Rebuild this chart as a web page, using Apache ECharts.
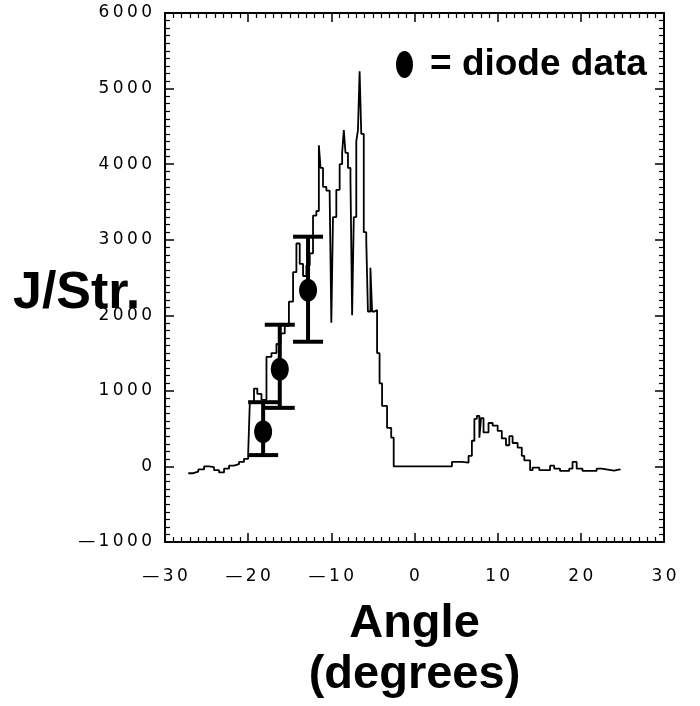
<!DOCTYPE html>
<html><head><meta charset="utf-8">
<script src="https://cdn.jsdelivr.net/npm/echarts@6/dist/echarts.min.js"></script>
<style>html,body{margin:0;padding:0;background:#fff}#c{width:700px;height:706px}</style>
</head><body><div id="c"></div>
<script>
const xTicks = [-30, -20, -10, 0, 10, 20, 30];
const yTicks = [-1000, 0, 1000, 2000, 3000, 4000, 5000, 6000];

const scanAngle = [
  -27.2, -26.6, -26.0, -25.3, -24.7, -24.1, -23.5, -22.9, -22.3, -21.7, -21.1, -20.5, -20.0,
  -19.8, -19.3, -18.9, -18.4, -17.8, -17.2, -16.6, -16.1, -15.6, -15.1, -14.6, -14.2, -13.8,
  -13.4, -13.0, -12.6, -12.2, -11.8, -11.5, -11.3, -11.0, -10.6, -10.2, -10.0, -9.8, -9.4,
  -9.0, -8.7, -8.5, -8.3, -8.0, -7.7, -7.5, -7.3, -7.0, -6.8, -6.6, -6.4, -6.1, -5.8, -5.6,
  -5.3, -5.1, -4.8, -4.5, -4.2, -3.9, -3.3, -2.8, -2.5,
  4.5, 5.7, 6.5, 6.9, 7.2, 7.5, 7.8, 8.0, 8.3, 8.9, 9.4, 10.0, 10.5, 11.0, 11.4, 11.8, 12.4,
  12.9, 13.2, 13.9, 14.2, 15.0, 16.3, 16.8, 17.5, 18.6, 19.0, 19.5, 20.2, 21.9, 22.5, 24.0, 24.7
];
const scanValue = [
  -90, -70, -40, 0, -10, -50, -80, -30, 10, 30, 60, 100, 170,
  850, 1030, 960, 880, 1450, 1500, 1620, 1760, 1860, 2180, 2570, 2950, 2680,
  2520, 2660, 2820, 3320, 3380, 4250, 3950, 3700, 3650, 3600, 1900, 3300, 3660,
  4000, 4150, 4450, 4150, 3950, 3800, 2000, 3300, 4300, 4450, 5230, 4400, 3100, 2990, 2050,
  2630, 2050, 2070, 1500, 1100, 800, 510, 380, 0,
  60, 50, 140, 340, 630, 670, 380, 640, 450, 575, 540, 470, 370, 280, 400, 310, 250,
  140, 80, -50, -15, -50, 10, -30, -60, -30, 60, -30, -60, -30, -55, -40, -50
];

const diodeAngle = [-18.2, -16.2, -12.8];
const diodeValue = [460, 1285, 2330];
const diodeLow = [150, 775, 1650];
const diodeHigh = [850, 1875, 3040];

const seriesName = 'diode data';
const legendText = '= diode data';
const yTitle = 'J/Str.';
const xTitle = 'Angle\n(degrees)';

const ellipse = 'path://M50,0 C77.6,0 100,22.4 100,50 C100,77.6 77.6,100 50,100 C22.4,100 0,77.6 0,50 C0,22.4 22.4,0 50,0 Z';

function spaced(v) {
  const s = String(Math.abs(v)).split('').join('\u2009');
  return v < 0 ? '\u2014\u2009' + s : s;
}

const tickFont = { fontFamily: 'DejaVu Sans', fontSize: 17, color: '#000' };
const lineStyle = { color: '#000', width: 2 };

function makeX(pos, showLabel) {
  return {
    type: 'value', position: pos, min: xTicks[0], max: xTicks[xTicks.length - 1],
    interval: xTicks[1] - xTicks[0],
    axisLine: { show: true, onZero: false, lineStyle: lineStyle },
    axisTick: { show: true, inside: true, length: 9, lineStyle: { color: '#000', width: 1.5 } },
    minorTick: { show: true, splitNumber: 10, length: 5, lineStyle: { color: '#000', width: 1.2 } },
    splitLine: { show: false }, minorSplitLine: { show: false },
    axisLabel: Object.assign({ show: showLabel, margin: 26, formatter: spaced }, tickFont),
    name: showLabel ? xTitle : '', nameLocation: 'middle', nameGap: 57,
    nameTextStyle: { fontFamily: 'Liberation Sans', fontWeight: 'bold', fontSize: 47, lineHeight: 51, color: '#000' }
  };
}
function makeY(pos, showLabel) {
  return {
    type: 'value', position: pos, min: yTicks[0], max: yTicks[yTicks.length - 1],
    interval: yTicks[1] - yTicks[0],
    axisLine: { show: true, onZero: false, lineStyle: lineStyle },
    axisTick: { show: true, inside: true, length: 9, lineStyle: { color: '#000', width: 1.5 } },
    minorTick: { show: true, splitNumber: 10, length: 5, lineStyle: { color: '#000', width: 1.2 } },
    splitLine: { show: false }, minorSplitLine: { show: false },
    axisLabel: Object.assign({ show: showLabel, margin: 13, formatter: spaced }, tickFont)
  };
}

const chart = echarts.init(document.getElementById('c'), null, { renderer: 'canvas' });
chart.setOption({
  animation: false,
  backgroundColor: '#fff',
  grid: { left: 165, right: 36, top: 13, bottom: 163 },
  title: {
    text: yTitle, left: 13, top: 268, padding: 0,
    textStyle: { fontFamily: 'Liberation Sans', fontWeight: 'bold', fontSize: 52, color: '#000' }
  },
  legend: {
    left: 396, top: 46, padding: 0,
    itemWidth: 17, itemHeight: 27, symbolKeepAspect: false,
    data: [{ name: seriesName, icon: ellipse, itemStyle: { color: '#000', opacity: 1 } }],
    formatter: function () { return '{t|' + legendText + '}'; },
    textStyle: {
      color: '#000',
      rich: { t: { fontFamily: 'Liberation Sans', fontWeight: 'bold', fontSize: 37, color: '#000', padding: [0, 0, 0, 12] } }
    }
  },
  xAxis: [makeX('bottom', true), makeX('top', false)],
  yAxis: [makeY('left', true), makeY('right', false)],
  series: [
    {
      type: 'line', name: 'scan', xAxisIndex: 0, yAxisIndex: 0,
      data: scanAngle.map((a, i) => [a, scanValue[i]]),
      step: 'end', showSymbol: false, symbol: 'none',
      lineStyle: { color: '#000', width: 1.8 }, z: 2
    },
    {
      type: 'custom', name: 'errors', xAxisIndex: 0, yAxisIndex: 0,
      data: diodeAngle.map((a, i) => [a, diodeLow[i], diodeHigh[i]]),
      encode: { x: 0, y: [1, 2] },
      renderItem: function (params, api) {
        const x = api.value(0);
        const pLo = api.coord([x, api.value(1)]);
        const pHi = api.coord([x, api.value(2)]);
        const hw = 15;
        const st = { stroke: '#000', lineWidth: 4 };
        return {
          type: 'group', children: [
            { type: 'line', shape: { x1: pLo[0], y1: pLo[1], x2: pHi[0], y2: pHi[1] }, style: st },
            { type: 'line', shape: { x1: pLo[0] - hw, y1: pLo[1], x2: pLo[0] + hw, y2: pLo[1] }, style: st },
            { type: 'line', shape: { x1: pHi[0] - hw, y1: pHi[1], x2: pHi[0] + hw, y2: pHi[1] }, style: st }
          ]
        };
      },
      z: 3
    },
    {
      type: 'scatter', name: seriesName, xAxisIndex: 0, yAxisIndex: 0,
      data: diodeAngle.map((a, i) => [a, diodeValue[i]]),
      symbol: ellipse, symbolSize: [18, 23],
      itemStyle: { color: '#000', opacity: 1 }, z: 4
    }
  ]
});
</script>
</body></html>
